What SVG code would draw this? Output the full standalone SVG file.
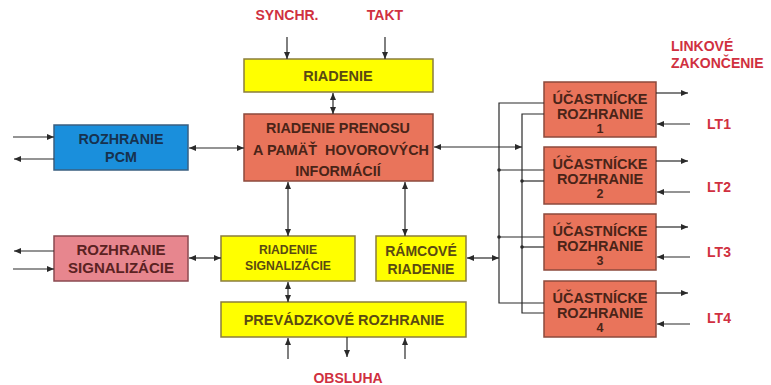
<svg xmlns="http://www.w3.org/2000/svg" width="771" height="385" viewBox="0 0 771 385">
<defs>
<marker id="ah" markerUnits="userSpaceOnUse" markerWidth="8" markerHeight="6" refX="7" refY="3" orient="auto-start-reverse"><path d="M0,0 L7,3 L0,6 z" fill="#2a2a2a"/></marker>
<style>
text{font-family:"Liberation Sans",Arial,sans-serif;font-weight:bold;text-anchor:middle}
.y rect{fill:#ffff00;stroke:#8a7d3c;stroke-width:1.5}
.y text{fill:#5a4a12}
.s rect{fill:#e9745b;stroke:#8c4a3c;stroke-width:1.5}
.s text{fill:#4a2418}
.b rect{fill:#1a8fdc;stroke:#3a5f80;stroke-width:1.5}
.b text{fill:#17324f}
.p rect{fill:#e7868e;stroke:#8a4a50;stroke-width:1.5}
.p text{fill:#5a2222}
.lbl{fill:#d03040;font-size:14px}
.c line,.c polyline{stroke:#2a2a2a;stroke-width:1.2;fill:none}
.a{marker-end:url(#ah)}
.d{marker-start:url(#ah);marker-end:url(#ah)}
</style>
</defs>

<g id="labels">
<text class="lbl" x="287" y="20">SYNCHR.</text>
<text class="lbl" x="385" y="20">TAKT</text>
<text class="lbl" x="348" y="383">OBSLUHA</text>
<text class="lbl" x="671" y="51" style="text-anchor:start">LINKOVÉ</text>
<text class="lbl" x="671" y="68" style="text-anchor:start">ZAKONČENIE</text>
<text class="lbl" x="719" y="129">LT1</text>
<text class="lbl" x="719" y="192">LT2</text>
<text class="lbl" x="719" y="257">LT3</text>
<text class="lbl" x="719" y="323">LT4</text>
</g>

<g id="riadenie" class="y"><rect x="244" y="59" width="189" height="33"/><text x="338" y="81" font-size="14.5">RIADENIE</text></g>
<g id="prenos" class="s"><rect x="244" y="114" width="189" height="67"/>
<text x="338" y="133" font-size="14.4">RIADENIE PRENOSU</text>
<text x="341" y="155" font-size="14.4" style="white-space:pre">A PAMÄŤ  HOVOROVÝCH</text>
<text x="338" y="176" font-size="14.4">INFORMÁCIÍ</text></g>
<g id="pcm" class="b"><rect x="54" y="125" width="134" height="45"/>
<text x="121" y="144" font-size="14.3">ROZHRANIE</text><text x="121" y="162" font-size="14.3">PCM</text></g>
<g id="rozhr-sig" class="p"><rect x="54" y="236" width="134" height="45"/>
<text x="121" y="255" font-size="15">ROZHRANIE</text><text x="121" y="273" font-size="15">SIGNALIZÁCIE</text></g>
<g id="riad-sig" class="y"><rect x="221" y="236" width="134" height="45"/>
<text x="288" y="254" font-size="12.2">RIADENIE</text><text x="288" y="270" font-size="12.2">SIGNALIZÁCIE</text></g>
<g id="ramcove" class="y"><rect x="376" y="236" width="90" height="45"/>
<text x="421" y="256" font-size="14">RÁMCOVÉ</text><text x="421" y="274" font-size="14">RIADENIE</text></g>
<g id="prevadzkove" class="y"><rect x="221" y="302" width="245" height="35"/>
<text x="344" y="325" font-size="14.5">PREVÁDZKOVÉ ROZHRANIE</text></g>

<g id="u1" class="s"><rect x="544" y="82" width="112" height="55"/>
<text x="600" y="104" font-size="14.5">ÚČASTNÍCKE</text><text x="600" y="119" font-size="14.5">ROZHRANIE</text><text x="600" y="133" font-size="12.5">1</text></g>
<g id="u2" class="s"><rect x="544" y="147" width="112" height="57"/>
<text x="600" y="169" font-size="14.5">ÚČASTNÍCKE</text><text x="600" y="184" font-size="14.5">ROZHRANIE</text><text x="600" y="198" font-size="12.5">2</text></g>
<g id="u3" class="s"><rect x="544" y="214" width="112" height="56"/>
<text x="600" y="236" font-size="14.5">ÚČASTNÍCKE</text><text x="600" y="251" font-size="14.5">ROZHRANIE</text><text x="600" y="265" font-size="12.5">3</text></g>
<g id="u4" class="s"><rect x="544" y="281" width="112" height="56"/>
<text x="600" y="303" font-size="14.5">ÚČASTNÍCKE</text><text x="600" y="318" font-size="14.5">ROZHRANIE</text><text x="600" y="332" font-size="12.5">4</text></g>

<g id="connectors" class="c">
<line class="a" x1="287" y1="37" x2="287" y2="59"/>
<line class="a" x1="385" y1="37" x2="385" y2="59"/>
<line class="d" x1="333" y1="93" x2="333" y2="114"/>
<line class="a" x1="13" y1="137" x2="54" y2="137"/>
<line class="a" x1="54" y1="159" x2="14" y2="159"/>
<line class="d" x1="189" y1="148" x2="244" y2="148"/>
<line class="a" x1="54" y1="251" x2="14" y2="251"/>
<line class="a" x1="13" y1="269" x2="54" y2="269"/>
<line class="d" x1="189" y1="258" x2="221" y2="258"/>
<line class="d" x1="288" y1="182" x2="288" y2="236"/>
<line class="d" x1="405" y1="182" x2="405" y2="236"/>
<line class="d" x1="288" y1="282" x2="288" y2="302"/>
<line class="a" x1="288" y1="359" x2="288" y2="338"/>
<line class="a" x1="347" y1="337" x2="347" y2="357"/>
<line class="a" x1="405" y1="359" x2="405" y2="338"/>
<line class="d" x1="434" y1="147" x2="522" y2="147"/>
<line class="d" x1="467" y1="258" x2="499" y2="258"/>
<polyline points="544,103 499,103 499,303 544,303"/>
<polyline points="544,114 522,114 522,313 544,313"/>
<line x1="499" y1="170" x2="544" y2="170"/>
<line x1="522" y1="181" x2="544" y2="181"/>
<line x1="499" y1="237" x2="544" y2="237"/>
<line x1="522" y1="247" x2="544" y2="247"/>
<line class="a" x1="656" y1="93" x2="688" y2="93"/>
<line class="a" x1="690" y1="124" x2="657" y2="124"/>
<line class="a" x1="656" y1="161" x2="688" y2="161"/>
<line class="a" x1="690" y1="192" x2="657" y2="192"/>
<line class="a" x1="656" y1="227" x2="688" y2="227"/>
<line class="a" x1="690" y1="257" x2="657" y2="257"/>
<line class="a" x1="656" y1="293" x2="688" y2="293"/>
<line class="a" x1="690" y1="324" x2="657" y2="324"/>
<g fill="#2a2a2a"><circle cx="499" cy="170" r="1.8"/><circle cx="522" cy="181" r="1.8"/><circle cx="499" cy="237" r="1.8"/><circle cx="522" cy="247" r="1.8"/></g>
</g>
</svg>
